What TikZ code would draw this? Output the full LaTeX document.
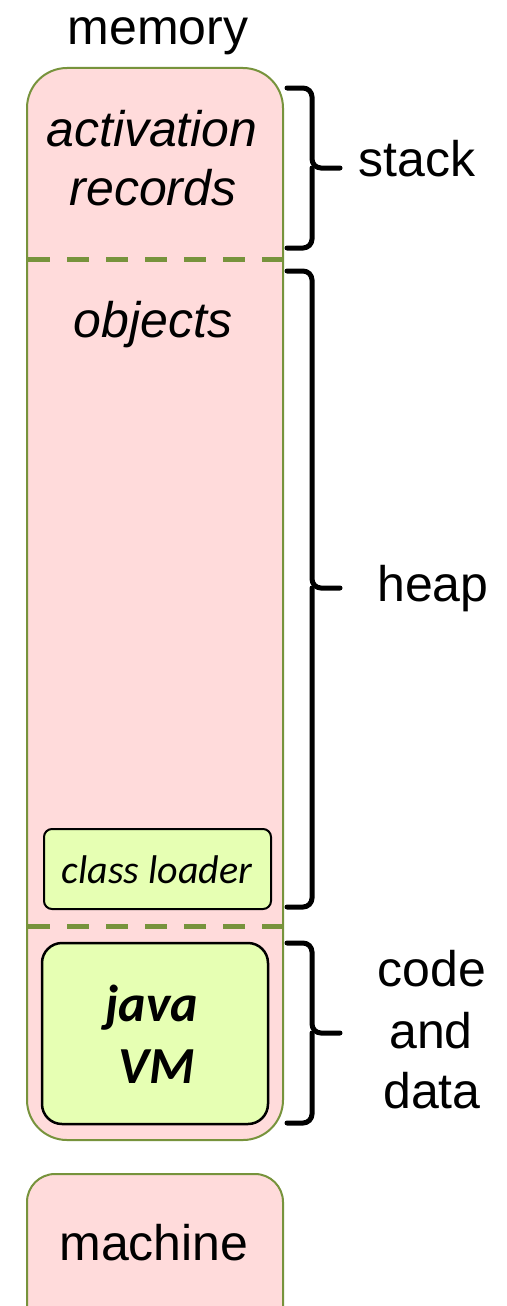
\documentclass[tikz,border=0pt]{standalone}
\usepackage{fontspec}
\setmainfont{Liberation Sans}
\newfontfamily\calfont{Carlito}
\definecolor{pinkfill}{HTML}{FFDBDB}
\definecolor{olive}{HTML}{77933C}
\definecolor{limefill}{HTML}{E6FFB3}
\begin{document}
\begin{tikzpicture}[x=1pt,y=-1pt,
  big/.style={font=\fontsize{50}{60}\selectfont, inner sep=0pt, anchor=base},
  bigit/.style={big, font=\fontsize{50}{60}\selectfont\itshape},
  region/.style={draw=olive, line width=2pt, fill=pinkfill},
  part/.style={draw=black, line width=2.5pt, fill=limefill},
  sep/.style={draw=olive, line width=5pt, dash pattern=on 22pt off 17pt},
  bracket/.style={draw=black, line width=5pt, rounded corners=9pt, line cap=round},
  jvm/.style={font=\calfont\fontsize{52}{62}\selectfont\bfseries\itshape, inner sep=0pt, anchor=base},
]
\useasboundingbox (0,0) rectangle (506,1306);
\fill[white] (0,0) rectangle (506,1306);

% memory box
\draw[region, rounded corners=40pt] (27,68) rectangle (283,1140);
\coordinate (s1l) at (28,259); \coordinate (s1r) at (282,259);
\coordinate (s2l) at (28,926); \coordinate (s2r) at (282,926);
\draw[sep] (s1l) -- (s1r);
\draw[sep] (s2l) -- (s2r);

\node[big] (mem) at (158,45) {memory};
\node[bigit] (act1) at (152,146) {activation};
\node[bigit] (act2) at (153,205) {records};
\node[bigit] (obj) at (153,337) {objects};

% class loader
\draw[part, line width=2pt, rounded corners=8pt] (44,829) rectangle (271,909);
\node[font=\calfont\fontsize{40}{48}\selectfont\itshape, inner sep=0pt, anchor=base] (cl) at (157,883) {class loader};

% java VM
\draw[part, rounded corners=20pt] (42,943) rectangle (268,1124);
\node[jvm] (jv1) at (152,1021) {java};
\node[jvm] (jv2) at (157,1083) {VM};

% machine
\draw[region, rounded corners=28pt] (27,1174) rectangle (283,1340);
\node[big] (mach) at (154,1260) {machine};

% braces
\draw[bracket] (287,88) -- (312,88) -- (312,168) -- (340,168);
\draw[bracket] (287,248) -- (312,248) -- (312,168);
\node[big] (stack) at (417,176) {stack};

\draw[bracket] (287,271) -- (312,271) -- (312,588) -- (340,588);
\draw[bracket] (287,907) -- (312,907) -- (312,588);
\node[big] (heap) at (433,601) {heap};

\draw[bracket] (287,943) -- (312,943) -- (312,1033) -- (340,1033);
\draw[bracket] (287,1123) -- (312,1123) -- (312,1033);
\node[big] (cd1) at (432,986) {code};
\node[big] (cd2) at (431,1048) {and};
\node[big] (cd3) at (432,1108) {data};
\end{tikzpicture}
\end{document}
